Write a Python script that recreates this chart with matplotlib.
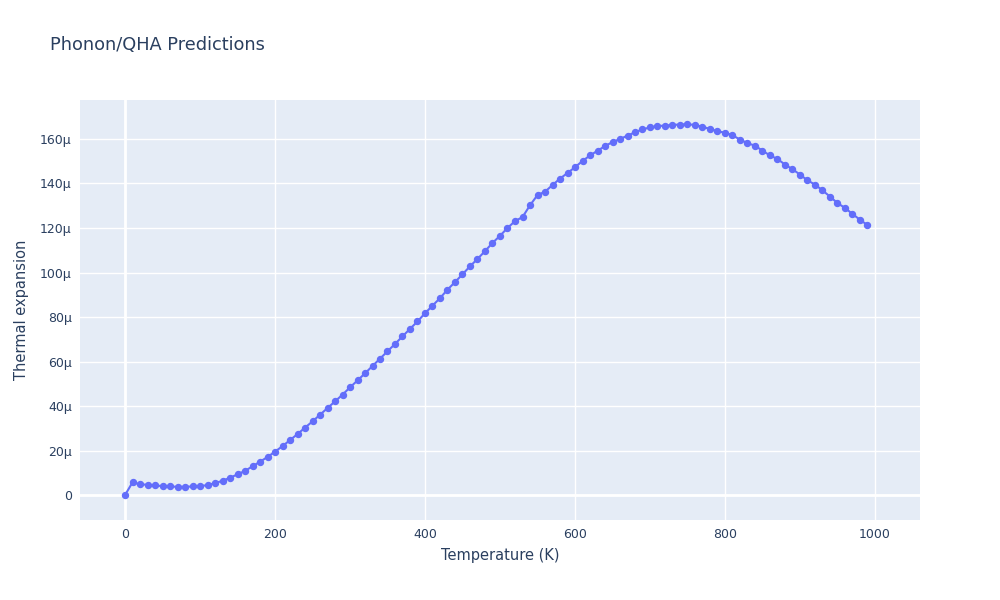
import numpy as np
import matplotlib.pyplot as plt
from matplotlib.ticker import FuncFormatter

# temperature (K) and thermal expansion (in units of 1e-6)
temperature = list(range(0, 1000, 10))
expansion = [
    0.0, 5.7, 4.9, 4.6, 4.4, 4.0, 3.9, 3.7, 3.7, 3.9,
    4.0, 4.5, 5.4, 6.4, 7.8, 9.3, 10.9, 12.9, 15.0, 17.1,
    19.5, 22.0, 24.7, 27.4, 30.3, 33.1, 36.1, 39.1, 42.1, 45.1,
    48.4, 51.5, 54.7, 58.0, 61.3, 64.6, 67.9, 71.3, 74.7, 78.0,
    81.7, 85.1, 88.5, 92.3, 95.7, 99.2, 102.8, 106.1, 109.6, 113.3,
    116.5, 120.0, 123.1, 124.9, 130.2, 134.8, 136.3, 139.3, 142.2, 144.7,
    147.3, 150.1, 152.6, 154.7, 156.8, 158.6, 160.0, 161.5, 163.0, 164.3,
    165.2, 165.8, 166.0, 166.3, 166.5, 166.6, 166.3, 165.5, 164.5, 163.5,
    162.8, 161.7, 159.7, 158.1, 157.0, 154.7, 152.6, 151.0, 148.5, 146.4,
    144.0, 141.4, 139.5, 136.9, 134.1, 131.2, 129.0, 126.3, 123.7, 121.3,
]

text_col = '#2a3f5f'
fig = plt.figure(figsize=(10, 6), dpi=100)
ax = fig.add_axes([0.08, 0.1333, 0.84, 0.7])
ax.set_facecolor('#e5ecf6')

ax.plot(temperature, expansion, color='#636efa', lw=1.5, marker='o',
        markersize=4.3, zorder=3)

ax.set_xlim(-60, 1060)
ax.set_ylim(-11.2, 177.5)
ax.set_xticks([0, 200, 400, 600, 800, 1000])
ax.set_yticks(np.arange(0, 161, 20))
ax.yaxis.set_major_formatter(FuncFormatter(lambda v, p: '0' if v == 0 else '%dμ' % v))

ax.grid(True, color='white', lw=1, zorder=0)
ax.set_axisbelow(True)
ax.axhline(0, color='white', lw=2, zorder=1)
ax.axvline(0, color='white', lw=2, zorder=1)
for s in ax.spines.values():
    s.set_visible(False)
ax.tick_params(length=0, labelsize=9, colors=text_col, pad=6)

ax.set_xlabel('Temperature (K)', fontsize=10.5, color=text_col, labelpad=5)
ax.set_ylabel('Thermal expansion', fontsize=10.5, color=text_col, labelpad=8)
fig.text(0.05, 0.925, 'Phonon/QHA Predictions', fontsize=12.8, color=text_col,
         va='center', ha='left')

fig.savefig('out.png', dpi=100)
